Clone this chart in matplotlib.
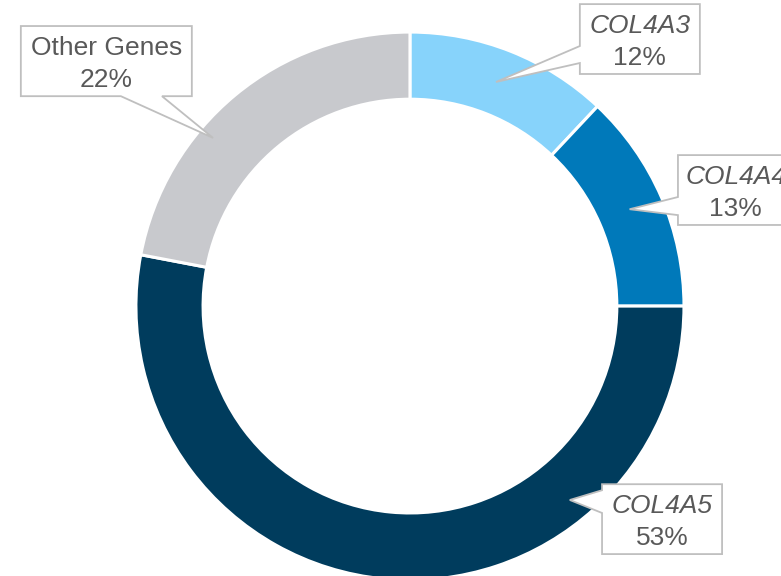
import numpy as np
import matplotlib.pyplot as plt
from matplotlib.patches import Polygon

plt.rcParams['font.family'] = ['Liberation Sans', 'DejaVu Sans']

genes = ['COL4A3', 'COL4A4', 'COL4A5', 'Other Genes']
shares = [12, 13, 53, 22]
colors = ['#87D3FB', '#0079BA', '#003C5D', '#C8C9CD']
italic = [True, True, True, False]

# callout boxes: (x0, y0, x1, y1), edge holding the pointer, pointer base span,
# pointer tip as (angle in degrees, radius)
boxes = [(0.620, 0.847, 1.058, 1.102), (0.978, 0.296, 1.400, 0.551),
         (0.701, -0.905, 1.139, -0.650), (-1.420, 0.766, -0.796, 1.022)]
edges = ['left', 'left', 'left', 'bottom']
bases = [(0.887, 0.949), (0.332, 0.398), (-0.755, -0.672), (-1.055, -0.905)]
tips = [(69.0, 0.876), (23.8, 0.876), (-50.5, 0.917), (139.5, 0.945)]

fig = plt.figure(figsize=(7.81, 5.76), dpi=100)
ax = fig.add_axes([0, 0, 1, 1])

ax.pie(shares, colors=colors, startangle=90, counterclock=False,
       radius=1.0, wedgeprops=dict(width=0.245, edgecolor='white', linewidth=2.2))


def callout(box, edge, base, tip):
    x0, y0, x1, y1 = box
    a, r = tip
    tx, ty = r * np.cos(np.radians(a)), r * np.sin(np.radians(a))
    if edge == 'left':
        pts = [(x0, y0), (x1, y0), (x1, y1), (x0, y1),
               (x0, base[1]), (tx, ty), (x0, base[0])]
    else:
        pts = [(x0, y0), (base[0], y0), (tx, ty), (base[1], y0),
               (x1, y0), (x1, y1), (x0, y1)]
    return Polygon(pts, closed=True, facecolor='white', edgecolor='#BFBFBF',
                   linewidth=1.3, zorder=5)


for g, s, it, box, edge, base, tip in zip(genes, shares, italic, boxes,
                                            edges, bases, tips):
    ax.add_patch(callout(box, edge, base, tip))
    cx = (box[0] + box[2]) / 2
    ax.text(cx, box[3] - 0.106, g, ha='center', va='baseline', fontsize=19,
            color='#595959', style='italic' if it else 'normal', zorder=6)
    ax.text(cx, box[3] - 0.221, f'{s}%', ha='center', va='baseline',
            fontsize=19, color='#595959', zorder=6)

ax.set_xlim(-1.496, 1.354)
ax.set_ylim(-0.985, 1.117)
ax.set_aspect('equal')
ax.axis('off')

fig.savefig('out.png', dpi=100)
